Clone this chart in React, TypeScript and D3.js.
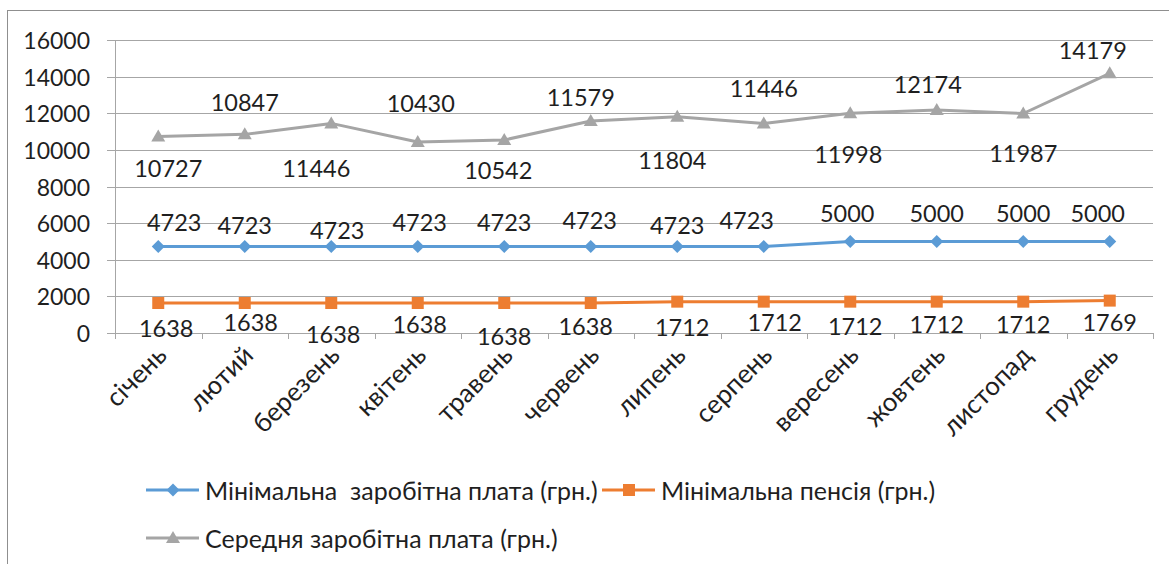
import { useEffect, useRef } from 'react'
import * as d3 from 'd3'

const months = ['січень', 'лютий', 'березень', 'квітень', 'травень', 'червень', 'липень', 'серпень', 'вересень', 'жовтень', 'листопад', 'грудень']
const minWage = [4723, 4723, 4723, 4723, 4723, 4723, 4723, 4723, 5000, 5000, 5000, 5000]
const minPension = [1638, 1638, 1638, 1638, 1638, 1638, 1712, 1712, 1712, 1712, 1712, 1769]
const avgWage = [10727, 10847, 11446, 10430, 10542, 11579, 11804, 11446, 11998, 12174, 11987, 14179]
const yTicks = [0, 2000, 4000, 6000, 8000, 10000, 12000, 14000, 16000]
const legendNames = ['Мінімальна  заробітна плата (грн.)', 'Мінімальна пенсія (грн.)', 'Середня заробітна плата (грн.)']

// data label nudges (px), the way they sit in the original chart
const wageLabelDx = [16, 0, 6, 2, 0, -1, 0, -17, -3, 0, 0, -12]
const wageLabelDy = [-25, -22, -17, -25, -25, -27, -22, -27, -28, -28, -28, -28]
const pensionLabelDx = [8, 6, 2, 2, 0, -5, 5, 11, 5, 0, 0, 0]
const pensionLabelDy = [25, 19, 31, 21, 33, 23, 25, 20, 24, 22, 22, 21]
const avgLabelDx = [10, 0, -15, 3, -6, -10, -5, 0, -2, -9, 0, -17]
const avgLabelDy = [31, -32, 45, -39, 30, -24, 43, -35, 41, -26, 40, -23]

const W = 1169
const H = 564
const FONT = 'Lato, "Open Sans", sans-serif'
const TEXT = '#1f1f1f'
const GRID = '#a6a6a6'

type Marker = 'diamond' | 'square' | 'triangle'

export default function App() {
  const ref = useRef<SVGSVGElement | null>(null)

  useEffect(() => {
    const svg = d3.select(ref.current)
    svg.selectAll('*').remove()

    const left = 115
    const right = 1153
    const top = 40
    const bottom = 333

    // chart frame (cut on the right and bottom in the source)
    svg.append('rect')
      .attr('x', 7.5).attr('y', 10.5)
      .attr('width', W + 20).attr('height', H + 20)
      .attr('fill', '#fff').attr('stroke', '#8f8f8f').attr('stroke-width', 1)

    const x = d3.scaleBand<string>().domain(months).range([left, right])
    const y = d3.scaleLinear().domain([0, 16000]).range([bottom, top])
    const cx = (i: number) => (x(months[i]) ?? 0) + x.bandwidth() / 2

    // grid + y labels
    yTicks.forEach((t) => {
      svg.append('line')
        .attr('x1', left - 8).attr('x2', right)
        .attr('y1', Math.round(y(t)) + 0.5).attr('y2', Math.round(y(t)) + 0.5)
        .attr('stroke', GRID).attr('stroke-width', 1)
      svg.append('text')
        .attr('x', 90).attr('y', y(t))
        .attr('text-anchor', 'end').attr('dominant-baseline', 'central')
        .attr('fill', TEXT).style('font', `23px ${FONT}`)
        .text(t)
    })
    svg.append('line')
      .attr('x1', left + 0.5).attr('x2', left + 0.5)
      .attr('y1', top).attr('y2', bottom + 6)
      .attr('stroke', GRID)

    // category ticks
    months.forEach((m) => {
      const xx = Math.round((x(m) ?? 0) + x.bandwidth()) + 0.5
      svg.append('line')
        .attr('x1', xx).attr('x2', xx)
        .attr('y1', bottom).attr('y2', bottom + 6)
        .attr('stroke', GRID)
    })

    // month labels
    months.forEach((m, i) => {
      svg.append('text')
        .attr('transform', `translate(${cx(i) + 10},${bottom + 24}) rotate(-45)`)
        .attr('text-anchor', 'end')
        .attr('fill', TEXT).style('font', `26px ${FONT}`)
        .text(m)
    })

    const drawMarker = (g: d3.Selection<SVGGElement, unknown, null, undefined>, kind: Marker, px: number, py: number, color: string) => {
      if (kind === 'diamond') {
        g.append('path').attr('d', `M${px},${py - 6.5}L${px + 6.5},${py}L${px},${py + 6.5}L${px - 6.5},${py}Z`).attr('fill', color)
      } else if (kind === 'square') {
        g.append('rect').attr('x', px - 6).attr('y', py - 6).attr('width', 12).attr('height', 12).attr('fill', color)
      } else {
        g.append('path').attr('d', `M${px},${py - 7}L${px + 7},${py + 5}L${px - 7},${py + 5}Z`).attr('fill', color)
      }
    }

    const series: { values: number[]; color: string; marker: Marker; dx: number[]; dy: number[] }[] = [
      { values: avgWage, color: '#a5a5a5', marker: 'triangle', dx: avgLabelDx, dy: avgLabelDy },
      { values: minPension, color: '#ed7d31', marker: 'square', dx: pensionLabelDx, dy: pensionLabelDy },
      { values: minWage, color: '#5b9bd5', marker: 'diamond', dx: wageLabelDx, dy: wageLabelDy },
    ]

    const line = d3.line<number>().x((_d, i) => cx(i)).y((d) => y(d))

    series.forEach((s) => {
      const g = svg.append('g')
      g.append('path').datum(s.values).attr('d', line)
        .attr('fill', 'none').attr('stroke', s.color).attr('stroke-width', 3)
        .attr('stroke-linejoin', 'round')
      s.values.forEach((v, i) => drawMarker(g, s.marker, cx(i), y(v), s.color))
    })

    series.forEach((s) => {
      s.values.forEach((v, i) => {
        svg.append('text')
          .attr('x', cx(i) + s.dx[i]).attr('y', y(v) + s.dy[i])
          .attr('text-anchor', 'middle').attr('dominant-baseline', 'central')
          .attr('fill', TEXT).style('font', `23.5px ${FONT}`)
          .text(v)
      })
    })

    // legend
    const legendItems = [
      { name: legendNames[0], color: '#5b9bd5', marker: 'diamond' as Marker, x0: 146, y0: 490 },
      { name: legendNames[1], color: '#ed7d31', marker: 'square' as Marker, x0: 602, y0: 490 },
      { name: legendNames[2], color: '#a5a5a5', marker: 'triangle' as Marker, x0: 146, y0: 538 },
    ]
    legendItems.forEach((it) => {
      const g = svg.append('g')
      g.append('line').attr('x1', it.x0).attr('x2', it.x0 + 53)
        .attr('y1', it.y0).attr('y2', it.y0)
        .attr('stroke', it.color).attr('stroke-width', 3)
      drawMarker(g, it.marker, it.x0 + 27, it.y0, it.color)
      g.append('text')
        .attr('x', it.x0 + 59).attr('y', it.y0)
        .attr('dominant-baseline', 'central')
        .attr('fill', TEXT).style('font', `25px ${FONT}`)
        .style('white-space', 'pre')
        .text(it.name)
    })
  }, [])

  return <svg ref={ref} width={W} height={H} style={{ position: 'absolute', left: 0, top: 0, background: '#fff' }} />
}
